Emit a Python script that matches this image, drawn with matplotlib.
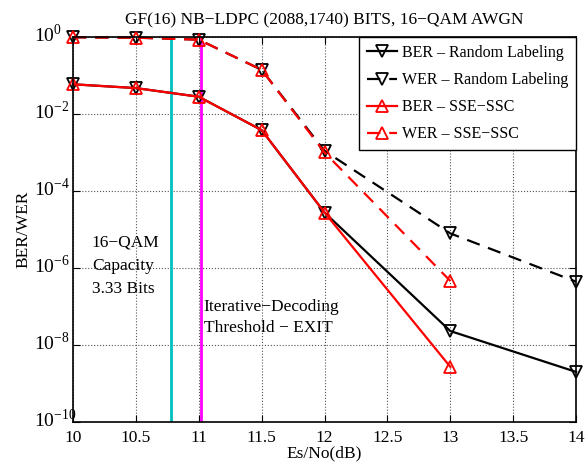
import matplotlib
matplotlib.use("Agg")
import matplotlib.pyplot as plt
import matplotlib.transforms as mtransforms
from matplotlib.ticker import NullLocator

plt.rcParams['font.family'] = ['Liberation Serif', 'DejaVu Serif']
plt.rcParams['mathtext.fontset'] = 'custom'
plt.rcParams['mathtext.rm'] = 'Liberation Serif'

# Es/No points (dB)
snr_random = [10, 10.5, 11, 11.5, 12, 13, 14]
snr_sse = [10, 10.5, 11, 11.5, 12, 13]

# error rates
ber_random = [5.9e-2, 4.7e-2, 2.8e-2, 3.8e-3, 2.75e-5, 2.3e-8, 2.0e-9]
wer_random = [0.98, 0.96, 0.85, 0.14, 1.1e-3, 7.9e-6, 4.4e-7]
ber_sse = [5.9e-2, 4.7e-2, 2.8e-2, 3.8e-3, 2.75e-5, 2.7e-9]
wer_sse = [0.98, 0.96, 0.85, 0.14, 1.0e-3, 4.6e-7]

x_ticks = [10, 10.5, 11, 11.5, 12, 12.5, 13, 13.5, 14]
y_exps = [-10, -8, -6, -4, -2, 0]

capacity_snr = 10.78
threshold_snr = 11.02

fig = plt.figure(figsize=(5.85, 4.62), dpi=100)
ax = fig.add_axes([0.1248, 0.0866, 0.86, 0.8334])

ax.axvline(capacity_snr, color='#00bfbf', lw=2)
ax.axvline(threshold_snr, color='#ff00ff', lw=2)

style = dict(mfc='none', mew=1.3, ms=8, lw=1.6, clip_on=False)
ax.semilogy(snr_random, ber_random, 'k-', marker='v', label='BER – Random Labeling', **style)
ax.semilogy(snr_random, wer_random, 'k--', marker='v', dashes=(6, 4),
            label='WER – Random Labeling', **style)
ax.semilogy(snr_sse, ber_sse, 'r-', marker='^', label='BER – SSE−SSC', **style)
ax.semilogy(snr_sse, wer_sse, 'r--', marker='^', dashes=(6, 4),
            label='WER – SSE−SSC', **style)

ax.set_xlim(10, 14)
ax.set_ylim(1e-10, 1)
ax.set_xticks(x_ticks)
ax.set_xticklabels([('%g' % v) for v in x_ticks])
ax.set_yticks([10.0 ** e for e in y_exps])
ax.set_yticklabels([r'$10^{%d}$' % e for e in y_exps])
ax.yaxis.set_minor_locator(NullLocator())
ax.grid(True, ls=':', color='#555555', lw=0.8)
ax.tick_params(direction='in', top=True, right=True, labelsize=12.5, length=5)
ax.tick_params(axis='x', pad=6)
# MATLAB-style: tick labels start at the same left edge, base centred on the tick
ax.tick_params(axis='y', pad=28, labelsize=14)
shift = mtransforms.ScaledTranslation(0, 3 / 72, fig.dpi_scale_trans)
for lab in ax.get_yticklabels():
    lab.set_ha('left')
    lab.set_transform(lab.get_transform() + shift)
for s in ax.spines.values():
    s.set_linewidth(1.2)

ax.text(10.15, 7.3e-6, '16−QAM\nCapacity\n3.33 Bits', fontsize=12.5, va='top', linespacing=1.6)
ax.text(11.04, 1.6e-7, 'Iterative−Decoding\nThreshold − EXIT', fontsize=12.5, va='top',
        linespacing=1.45)

ax.set_title('GF(16) NB−LDPC (2088,1740) BITS, 16−QAM AWGN', fontsize=12.5, pad=9)
ax.set_xlabel('Es/No(dB)', fontsize=12.5, labelpad=-1)
ax.set_ylabel('BER/WER', fontsize=12.5, labelpad=2)

leg = ax.legend(loc='upper right', fontsize=11.5, fancybox=False, edgecolor='black',
                framealpha=1, borderaxespad=0, handlelength=1.9, handletextpad=0.3,
                labelspacing=0.7, borderpad=0.5)
leg.get_frame().set_linewidth(1.0)

fig.savefig('out.png', dpi=100)
